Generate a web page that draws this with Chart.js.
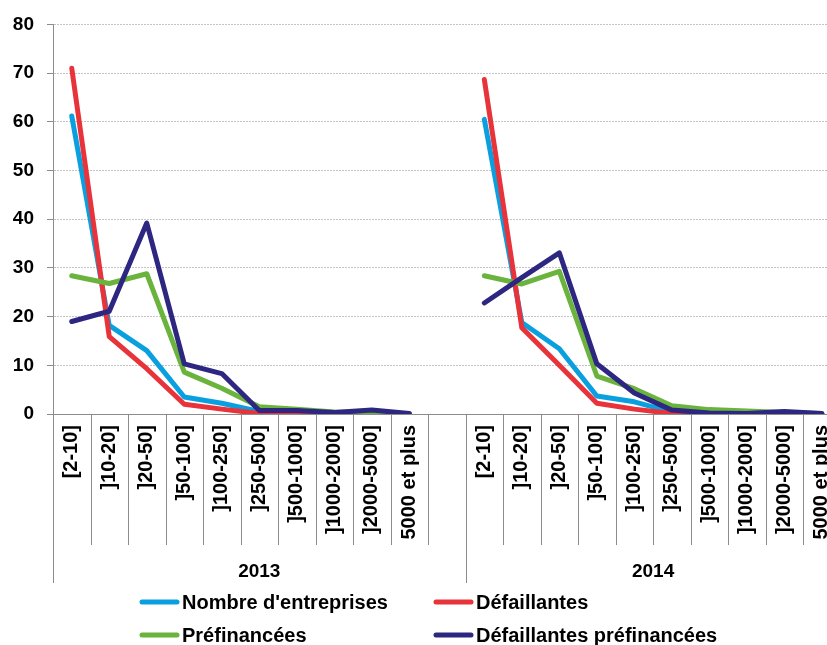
<!DOCTYPE html>
<html>
<head>
<meta charset="utf-8">
<script src="https://cdn.jsdelivr.net/npm/chart.js@4/dist/chart.umd.min.js"></script>
<style>
  html, body { margin: 0; padding: 0; background: #ffffff; overflow: hidden; }
  #wrap { width: 827px; height: 645px; overflow: hidden; position: relative; }
  canvas { display: block; }
</style>
</head>
<body>
<div id="wrap"><canvas id="c" width="857" height="645"></canvas></div>
<script>
// Size classes (number of employees) and years
const categories = ['[2-10]', ']10-20]', ']20-50]', ']50-100]', ']100-250]', ']250-500]', ']500-1000]', ']1000-2000]', ']2000-5000]', '5000 et plus'];
const years = ['2013', '2014'];

// Shares (%) by size class
const nombre2013       = [61.2, 18.2, 13.0, 3.5, 2.2, 0.5, 0.2, 0.1, 0.1, 0.0];
const nombre2014       = [60.5, 18.8, 13.4, 3.7, 2.5, 0.4, 0.1, 0.1, 0.1, 0.0];
const defaillantes2013 = [71.0, 15.9, 9.3, 2.0, 1.0, 0.1, 0.0, 0.0, 0.0, 0.0];
const defaillantes2014 = [68.7, 17.7, 10.0, 2.2, 1.0, 0.1, 0.0, 0.0, 0.0, 0.0];
const prefin2013       = [28.4, 26.8, 28.8, 8.6, 5.3, 1.5, 1.0, 0.4, 0.2, 0.1];
const prefin2014       = [28.4, 26.7, 29.3, 7.8, 5.2, 1.7, 0.9, 0.6, 0.3, 0.1];
const defPrefin2013    = [19.0, 21.1, 39.2, 10.3, 8.3, 0.7, 0.7, 0.3, 0.8, 0.1];
const defPrefin2014    = [22.8, 28.0, 33.1, 10.3, 4.3, 0.8, 0.2, 0.1, 0.5, 0.1];

const seriesNames = ["Nombre d'entreprises", 'Défaillantes', 'Préfinancées', 'Défaillantes préfinancées'];
const yTicks = [0, 10, 20, 30, 40, 50, 60, 70, 80];

const COLORS = ['#0AA0E0', '#E8333A', '#6AB43E', '#2E2782'];
const AXIS_GREY = '#8c8c8c';
const FONT = "'Liberation Sans', Arial, sans-serif";

// One blank slot separates the two years so the lines break between them
const labels = [...categories, '', ...categories];
const joinYears = (a, b) => [...a, null, ...b];

const seriesData = [
  joinYears(nombre2013, nombre2014),
  joinYears(defaillantes2013, defaillantes2014),
  joinYears(prefin2013, prefin2014),
  joinYears(defPrefin2013, defPrefin2014)
];

// Separator lines under the category axis, year labels and the two-column legend
const decor = {
  id: 'decor',
  afterDraw(chart) {
    const { ctx, chartArea } = chart;
    const n = labels.length;
    const w = (chartArea.right - chartArea.left) / n;
    const bound = i => chartArea.left + i * w;
    const axisY = chartArea.bottom;
    const groupStarts = [0, categories.length + 1, n];

    ctx.save();
    ctx.strokeStyle = AXIS_GREY;
    ctx.lineWidth = 1;
    for (let i = 0; i <= n; i++) {
      const bx = Math.round(bound(i)) + 0.5;
      const isGroup = groupStarts.includes(i);
      ctx.beginPath();
      ctx.moveTo(bx, axisY);
      ctx.lineTo(bx, axisY + (isGroup ? 169 : 131));
      ctx.stroke();
    }

    ctx.fillStyle = '#000';
    ctx.font = 'bold 19px ' + FONT;
    ctx.textAlign = 'center';
    ctx.textBaseline = 'middle';
    for (let g = 0; g < years.length; g++) {
      const cx = (bound(groupStarts[g]) + bound(groupStarts[g + 1])) / 2;
      ctx.fillText(years[g], cx, axisY + 158);
    }

    // legend: 2 x 2 grid
    const cols = [139, 433];
    const rows = [602, 635];
    ctx.font = 'bold 20px ' + FONT;
    ctx.textAlign = 'left';
    chart.data.datasets.forEach((ds, i) => {
      const lx = cols[i % 2];
      const ly = rows[Math.floor(i / 2)];
      ctx.strokeStyle = ds.borderColor;
      ctx.lineWidth = 5;
      ctx.lineCap = 'round';
      ctx.beginPath();
      ctx.moveTo(lx + 3, ly);
      ctx.lineTo(lx + 38, ly);
      ctx.stroke();
      ctx.fillStyle = '#000';
      ctx.fillText(ds.label, lx + 43, ly + 1);
    });
    ctx.restore();
  }
};

new Chart(document.getElementById('c'), {
  type: 'line',
  data: {
    labels: labels,
    datasets: seriesData.map((d, i) => ({
      label: seriesNames[i],
      data: d,
      borderColor: COLORS[i],
      backgroundColor: COLORS[i],
      borderWidth: 5,
      borderCapStyle: 'round',
      borderJoinStyle: 'round',
      pointRadius: 0,
      tension: 0,
      spanGaps: false,
      order: seriesData.length - i
    }))
  },
  options: {
    responsive: false,
    animation: false,
    devicePixelRatio: 1,
    layout: { padding: { top: 22, right: 5.5, left: 0, bottom: 0 } },
    plugins: { legend: { display: false }, tooltip: { enabled: false } },
    scales: {
      x: {
        type: 'category',
        offset: true,
        grid: { display: false, drawTicks: false },
        border: { display: true, color: AXIS_GREY, width: 1 },
        ticks: {
          autoSkip: false,
          minRotation: 90,
          maxRotation: 90,
          padding: 11,
          color: '#000',
          font: { family: FONT, size: 20, weight: 'bold' }
        },
        afterFit(scale) { scale.height = 231; }
      },
      y: {
        min: 0,
        max: 80,
        afterBuildTicks(scale) { scale.ticks = yTicks.map(v => ({ value: v })); },
        grid: {
          color: '#c4c4c4',
          lineWidth: 1,
          drawTicks: true,
          tickLength: 6,
          tickColor: AXIS_GREY,
          tickBorderDash: []
        },
        border: { display: true, color: AXIS_GREY, width: 1, dash: [2, 1] },
        ticks: {
          padding: 13,
          color: '#000',
          font: { family: FONT, size: 19, weight: 'bold' }
        },
        afterFit(scale) { scale.width = 53; }
      }
    }
  },
  plugins: [decor]
});
</script>
</body>
</html>
